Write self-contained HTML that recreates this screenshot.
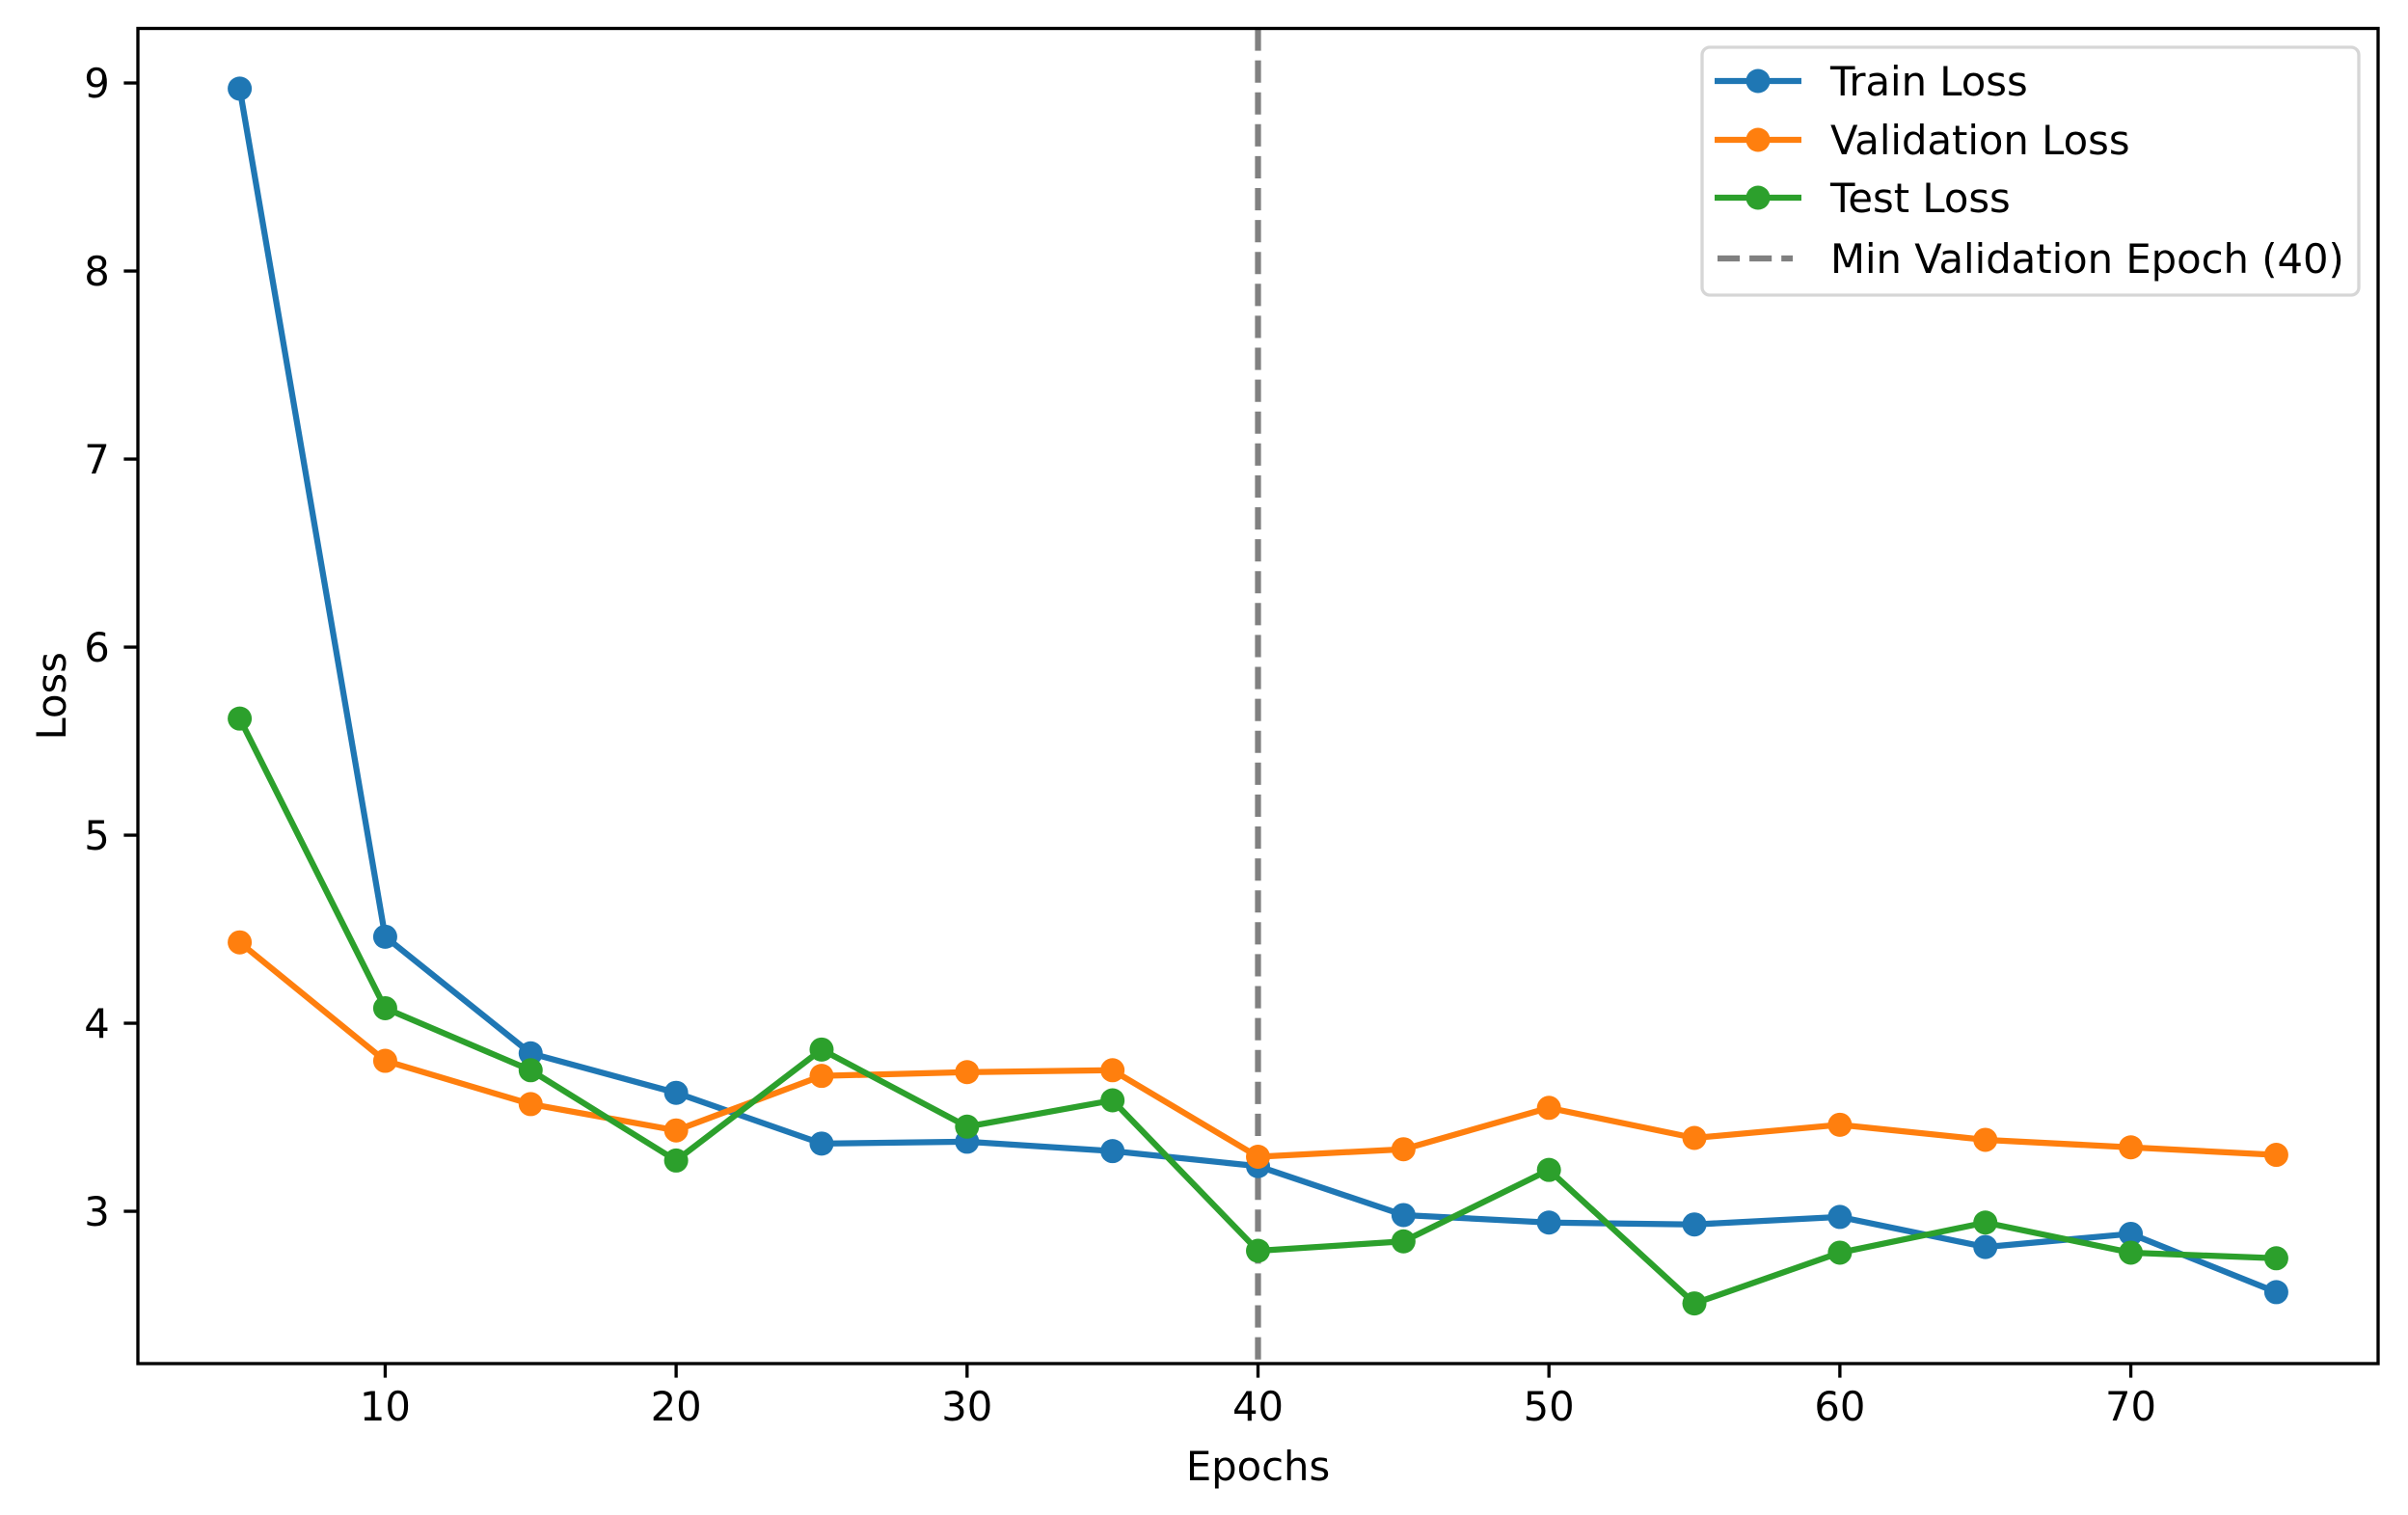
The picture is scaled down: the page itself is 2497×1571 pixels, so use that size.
<!DOCTYPE html>
<html><head><meta charset="utf-8"><style>
html,body{margin:0;padding:0;background:#fff;}
svg{display:block;font-family:"DejaVu Sans","Liberation Sans",sans-serif;}
</style></head><body>
<svg id="chart" width="2497" height="1571" viewBox="0 0 2497 1571"></svg>
<script>
const epochs=[5,10,15,20,25,30,35,40,45,50,55,60,65,70,75];
const trainLoss=[8.97,4.46,3.84,3.63,3.36,3.37,3.32,3.24,2.98,2.94,2.93,2.97,2.81,2.88,2.57];
const valLoss=[4.43,3.80,3.57,3.43,3.72,3.74,3.75,3.29,3.33,3.55,3.39,3.46,3.38,3.34,3.30];
const testLoss=[5.62,4.08,3.75,3.27,3.86,3.45,3.59,2.79,2.84,3.22,2.51,2.78,2.94,2.78,2.75];
const xTicks=[10,20,30,40,50,60,70];
const yTicks=[3,4,5,6,7,8,9];
const minValEpoch=40;

const NS="http://www.w3.org/2000/svg";
const svg=document.getElementById('chart');
const L=143,R=2466,T=29.5,B=1414;
const X0=1.5,X1=78.5,Y0=2.19,Y1=9.29;
const FS=41.7,LW=6.25,MR=12.5,AW=3.33,TL=14.6;
const sx=v=>L+(v-X0)/(X1-X0)*(R-L);
const sy=v=>B-(v-Y0)/(Y1-Y0)*(B-T);
function mk(tag,attrs,parent){const e=document.createElementNS(NS,tag);for(const k in attrs)e.setAttribute(k,attrs[k]);(parent||svg).appendChild(e);return e;}

xTicks.forEach(t=>{
  const g=mk('g',{});
  
  
  mk('line',{x1:sx(t),x2:sx(t),y1:B,y2:B+TL,stroke:'#000','stroke-width':AW},g);
  const tx=mk('text',{x:sx(t),y:B+TL+14.6+30,'font-size':FS,'text-anchor':'middle',fill:'#000'},g);
  tx.textContent=t;
});
yTicks.forEach(t=>{
  const g=mk('g',{});
  
  
  mk('line',{x1:L-TL,x2:L,y1:sy(t),y2:sy(t),stroke:'#000','stroke-width':AW},g);
  const tx=mk('text',{x:L-TL-14.6,y:sy(t)+15,'font-size':FS,'text-anchor':'end',fill:'#000'},g);
  tx.textContent=t;
});

const vl=mk('line',{x1:sx(minValEpoch),x2:sx(minValEpoch),y1:T,y2:B,stroke:'#808080','stroke-width':LW,'stroke-dasharray':'23.1 10'});



const series=[['train-loss',trainLoss,'#1f77b4'],['validation-loss',valLoss,'#ff7f0e'],['test-loss',testLoss,'#2ca02c']];
series.forEach(([name,vals,col])=>{
  const g=mk('g',{});
  
  
  const pts=epochs.map((e,i)=>sx(e)+','+sy(vals[i])).join(' ');
  const pl=mk('polyline',{points:pts,fill:'none',stroke:col,'stroke-width':LW,'stroke-linejoin':'round','stroke-linecap':'square'},g);
  
  
  epochs.forEach((e,i)=>{
    const c=mk('circle',{cx:sx(e),cy:sy(vals[i]),r:MR,fill:col},g);
    
    
  });
});

const fr=mk('rect',{x:L,y:T,width:R-L,height:B-T,fill:'none',stroke:'#000','stroke-width':AW});



const xt=mk('text',{x:(L+R)/2,y:1535,'font-size':FS,'text-anchor':'middle',fill:'#000'});
xt.textContent='Epochs';


const yt=mk('text',{x:0,y:0,'font-size':FS,'text-anchor':'middle',fill:'#000',transform:'translate(68,'+((T+B)/2)+') rotate(-90)'});
yt.textContent='Loss';



const lg=mk('g',{});


mk('rect',{x:1765,y:49,width:681,height:257,rx:8,fill:'#fff','fill-opacity':0.8,stroke:'#d6d6d6','stroke-width':AW},lg);
const entries=[['Train Loss','#1f77b4',false],['Validation Loss','#ff7f0e',false],['Test Loss','#2ca02c',false],['Min Validation Epoch (40)','#808080',true]];
const ly=[84,145,205,268];
entries.forEach(([label,col,dash],i)=>{
  const g=mk('g',{},lg);
  
  
  const y=ly[i];
  if(dash){
    mk('line',{x1:1781,x2:1859,y1:y,y2:y,stroke:col,'stroke-width':LW,'stroke-dasharray':'23.1 10'},g);
  }else{
    mk('line',{x1:1778,x2:1868,y1:y,y2:y,stroke:col,'stroke-width':LW},g);
    mk('circle',{cx:1823,cy:y,r:MR,fill:col},g);
  }
  const t=mk('text',{x:1898,y:y+15,'font-size':FS,fill:'#000'},g);
  t.textContent=label;
});
</script>
</body></html>
